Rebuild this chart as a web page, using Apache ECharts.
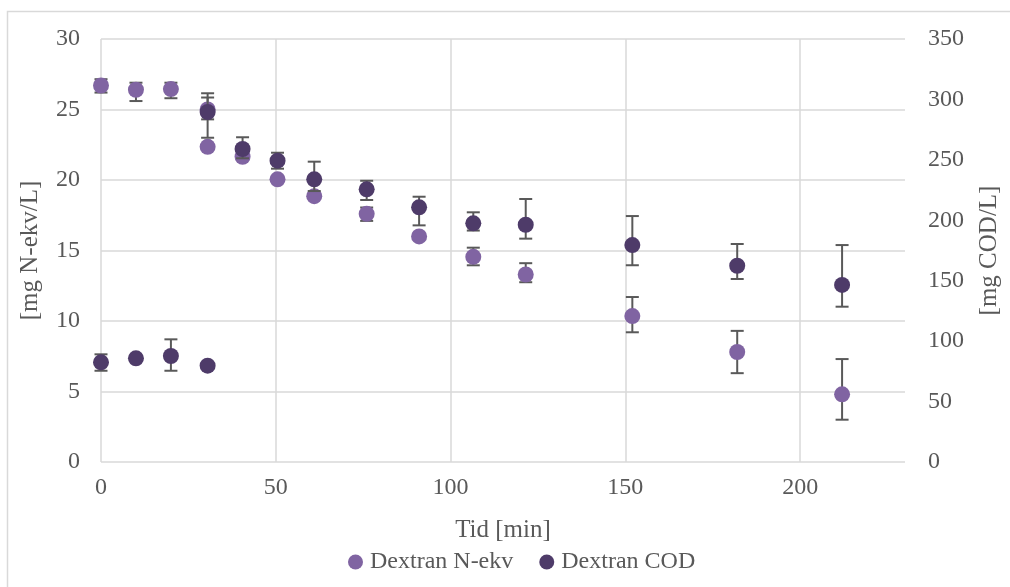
<!DOCTYPE html>
<html>
<head>
<meta charset="utf-8">
<script src="https://cdn.jsdelivr.net/npm/echarts@6/dist/echarts.min.js"></script>
<style>
  html, body { margin: 0; padding: 0; background: #fff; }
  #chart { width: 1010px; height: 587px; }
</style>
</head>
<body>
<div id="chart"></div>
<script>
// tid [min]
const time = [0, 10, 20, 30.5, 30.5, 40.5, 50.5, 61, 76, 91, 106.5, 121.5, 152, 182, 212]
// Dextran N-ekv [mg N-ekv/L] (venstre akse)
const nValue = [26.7, 26.4, 26.45, 25.0, 22.35, 21.65, 20.05, 18.85, 17.6, 16.0, 14.55, 13.3, 10.35, 7.8, 4.8]
const nLow = [26.2, 25.6, 25.8, 24.3, null, null, null, null, 17.1, null, 13.95, 12.75, 9.2, 6.3, 3.0]
const nHigh = [27.15, 26.9, 26.9, 25.85, null, null, null, null, 18.05, null, 15.2, 14.1, 11.7, 9.3, 7.3]
// Dextran COD [mg COD/L] (høyre akse)
const cValue = [82.5, 85.8, 87.7, 79.7, 289.6, 259.0, 249.3, 233.9, 225.6, 210.7, 197.5, 196.3, 179.5, 162.4, 146.5]
const cLow = [75.5, null, 75.5, null, 268.3, 251.3, 242.7, 224.2, 216.8, 195.8, 191.5, 184.8, 162.8, 151.4, 128.5]
const cHigh = [89.1, null, 101.5, null, 305.1, 268.7, 255.9, 248.5, 232.7, 219.5, 206.6, 217.6, 203.5, 180.4, 179.5]

const xTicks = [0, 50, 100, 150, 200]

const lightColor = '#8064a2'
const darkColor = '#4e3b69'
const textColor = '#595959'
const gridColor = '#d9d9d9'
const font = 'Liberation Serif'

const pairs = (vals) => time.map((t, i) => [t, vals[i]])
const bars = (lo, hi) => time.map((t, i) => [t, lo[i], hi[i]]).filter((d) => d[1] !== null)

// feilstolper tegnes med custom-serie, under punktene
const errorBar = (params, api) => {
  const x = api.value(0)
  const top = api.coord([x, api.value(2)])
  const bottom = api.coord([x, api.value(1)])
  const hw = 6.5
  const style = { stroke: textColor, lineWidth: 2 }
  return {
    type: 'group',
    children: [
      { type: 'line', shape: { x1: top[0], y1: top[1], x2: bottom[0], y2: bottom[1] }, style },
      { type: 'line', shape: { x1: top[0] - hw, y1: top[1], x2: top[0] + hw, y2: top[1] }, style },
      { type: 'line', shape: { x1: bottom[0] - hw, y1: bottom[1], x2: bottom[0] + hw, y2: bottom[1] }, style }
    ]
  }
}

const myChart = echarts.init(document.getElementById('chart'))
const option = {
  animation: false,
  textStyle: { fontFamily: font },
  graphic: [
    {
      type: 'rect',
      shape: { x: 7.5, y: 11.5, width: 1010, height: 580 },
      style: { fill: 'none', stroke: gridColor, lineWidth: 1.5 },
      silent: true
    }
  ],
  grid: { left: 101, right: 105, top: 39, bottom: 125 },
  legend: {
    left: 343,
    top: 545,
    itemWidth: 15,
    itemHeight: 15,
    itemGap: 26,
    data: [
      { name: 'Dextran N-ekv', icon: 'circle' },
      { name: 'Dextran COD', icon: 'circle' }
    ],
    textStyle: { color: textColor, fontSize: 24, fontFamily: font, padding: [0, 0, 0, 2] }
  },
  xAxis: {
    type: 'value',
    min: 0,
    max: 230,
    interval: 50,
    name: 'Tid [min]',
    nameLocation: 'middle',
    nameGap: 56,
    nameTextStyle: { color: textColor, fontSize: 25, fontFamily: font },
    axisLine: { show: false },
    axisTick: { show: false },
    axisLabel: {
      color: textColor,
      fontSize: 24,
      fontFamily: font,
      margin: 14,
      formatter: (v) => (xTicks.includes(v) ? String(v) : '')
    },
    splitLine: { show: true, showMaxLine: false, lineStyle: { color: gridColor, width: 1.5 } }
  },
  yAxis: [
    {
      type: 'value',
      min: 0,
      max: 30,
      interval: 5,
      name: '[mg N-ekv/L]',
      nameLocation: 'middle',
      nameGap: 58,
      nameTextStyle: { color: textColor, fontSize: 25, fontFamily: font },
      axisLine: { show: false },
      axisTick: { show: false },
      axisLabel: { color: textColor, fontSize: 24, fontFamily: font, margin: 21 },
      splitLine: { show: true, lineStyle: { color: gridColor, width: 1.5 } }
    },
    {
      type: 'value',
      min: 0,
      max: 350,
      interval: 50,
      name: '[mg COD/L]',
      nameLocation: 'middle',
      nameGap: 72,
      nameTextStyle: { color: textColor, fontSize: 25, fontFamily: font },
      axisLine: { show: false },
      axisTick: { show: false },
      axisLabel: { color: textColor, fontSize: 24, fontFamily: font, margin: 23 },
      splitLine: { show: false }
    }
  ],
  series: [
    {
      name: 'N-ekv feil',
      type: 'custom',
      yAxisIndex: 0,
      renderItem: errorBar,
      encode: { x: 0, y: [1, 2] },
      data: bars(nLow, nHigh),
      silent: true,
      z: 2
    },
    {
      name: 'Dextran N-ekv',
      type: 'scatter',
      yAxisIndex: 0,
      symbolSize: 16,
      itemStyle: { color: lightColor, opacity: 1 },
      data: pairs(nValue),
      z: 3
    },
    {
      name: 'COD feil',
      type: 'custom',
      yAxisIndex: 1,
      renderItem: errorBar,
      encode: { x: 0, y: [1, 2] },
      data: bars(cLow, cHigh),
      silent: true,
      z: 4
    },
    {
      name: 'Dextran COD',
      type: 'scatter',
      yAxisIndex: 1,
      symbolSize: 16,
      itemStyle: { color: darkColor, opacity: 1 },
      data: pairs(cValue),
      z: 5
    }
  ]
}
option && myChart.setOption(option)
</script>
</body>
</html>
